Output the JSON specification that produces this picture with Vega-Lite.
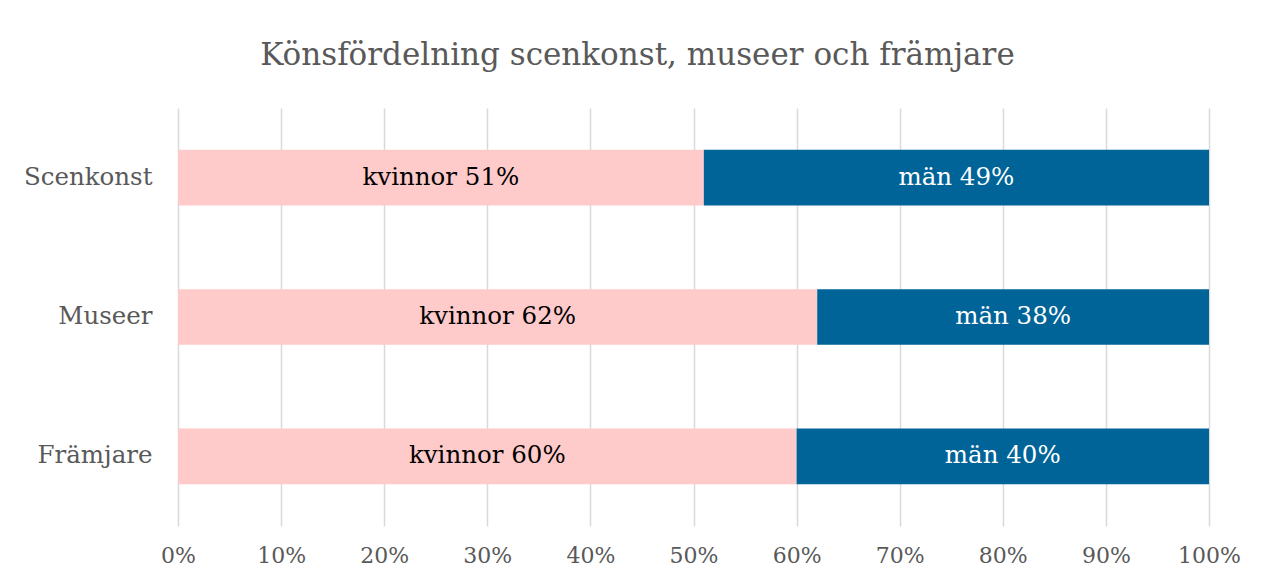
{
  "$schema": "https://vega.github.io/schema/vega-lite/v6.json",
  "width": 1031,
  "height": 418,
  "autosize": {"type": "none"},
  "padding": {"left": 178, "top": 108, "right": 59, "bottom": 55},
  "background": "white",
  "title": {
    "text": "Könsfördelning scenkonst, museer och främjare",
    "font": "DejaVu Serif",
    "fontSize": 31,
    "fontWeight": "normal",
    "color": "#595959",
    "anchor": "middle",
    "frame": "group",
    "dx": -56,
    "baseline": "alphabetic",
    "offset": 12
  },
  "data": {
    "values": [
      {"kategori": "Scenkonst", "kon": "kvinnor", "andel": 0.51, "etikett": "kvinnor 51%", "ordning": 1},
      {"kategori": "Scenkonst", "kon": "män", "andel": 0.49, "etikett": "män 49%", "ordning": 2},
      {"kategori": "Museer", "kon": "kvinnor", "andel": 0.62, "etikett": "kvinnor 62%", "ordning": 1},
      {"kategori": "Museer", "kon": "män", "andel": 0.38, "etikett": "män 38%", "ordning": 2},
      {"kategori": "Främjare", "kon": "kvinnor", "andel": 0.60, "etikett": "kvinnor 60%", "ordning": 1},
      {"kategori": "Främjare", "kon": "män", "andel": 0.40, "etikett": "män 40%", "ordning": 2}
    ]
  },
  "encoding": {
    "y": {
      "field": "kategori",
      "type": "nominal",
      "sort": ["Scenkonst", "Museer", "Främjare"],
      "scale": {"paddingInner": 0.6, "paddingOuter": 0.3},
      "axis": {
        "title": null,
        "domain": false,
        "ticks": false,
        "labelFont": "DejaVu Serif",
        "labelFontSize": 24.5,
        "labelColor": "#595959",
        "labelPadding": 26
      }
    },
    "x": {
      "field": "andel",
      "type": "quantitative",
      "stack": "normalize",
      "scale": {"domain": [0, 1]},
      "axis": {
        "title": null,
        "format": ".0%",
        "values": [0, 0.1, 0.2, 0.3, 0.4, 0.5, 0.6, 0.7, 0.8, 0.9, 1],
        "labelOverlap": false,
        "labelFlush": false,
        "domain": false,
        "ticks": false,
        "grid": true,
        "gridColor": "#d9d9d9",
        "gridWidth": 1.5,
        "labelFont": "DejaVu Serif",
        "labelFontSize": 22,
        "labelColor": "#595959",
        "labelPadding": 19
      }
    },
    "order": {"field": "ordning", "type": "quantitative"}
  },
  "layer": [
    {
      "mark": {"type": "bar"},
      "encoding": {
        "color": {
          "field": "kon",
          "type": "nominal",
          "scale": {"domain": ["kvinnor", "män"], "range": ["#FFCACA", "#006498"]},
          "legend": null
        }
      }
    },
    {
      "mark": {"type": "text", "font": "DejaVu Serif", "fontSize": 24.5, "baseline": "middle", "align": "center"},
      "encoding": {
        "x": {"field": "andel", "type": "quantitative", "stack": "normalize", "bandPosition": 0.5},
        "text": {"field": "etikett"},
        "color": {
          "field": "kon",
          "type": "nominal",
          "scale": {"domain": ["kvinnor", "män"], "range": ["#000000", "#FFFFFF"]},
          "legend": null
        }
      }
    }
  ],
  "resolve": {"scale": {"color": "independent"}},
  "config": {"view": {"stroke": null}}
}
